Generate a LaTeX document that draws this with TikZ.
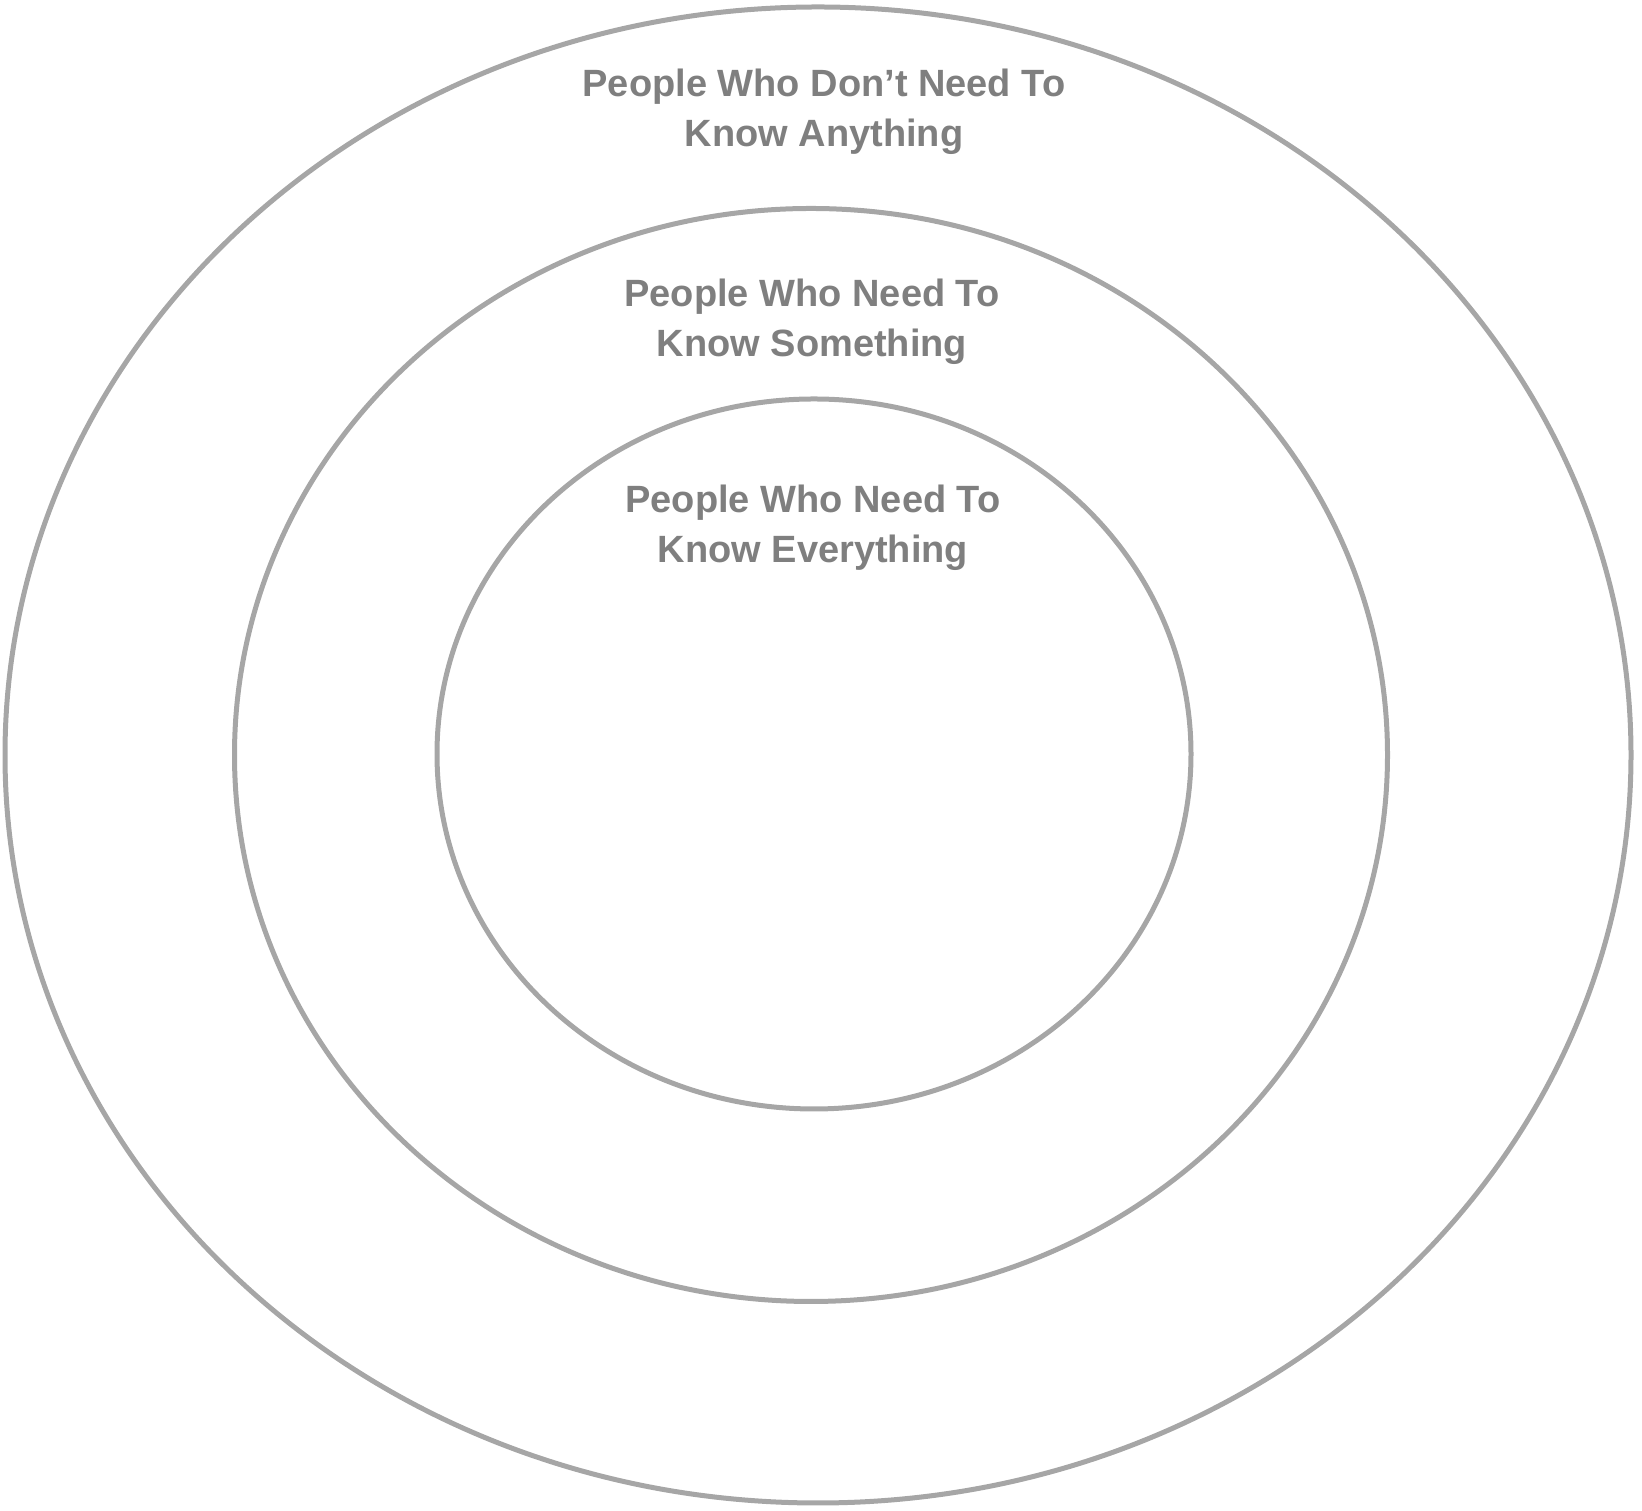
\documentclass[tikz,border=0pt]{standalone}
\usepackage{fontspec}
\setmainfont{Liberation Sans}
\usetikzlibrary{shapes.geometric, positioning}

\definecolor{ringgray}{HTML}{A6A6A6}
\definecolor{textgray}{HTML}{7F7F7F}

\begin{document}
\begin{tikzpicture}[
		x=1pt, y=1pt,
		ring/.style={ellipse, draw=ringgray, line width=5pt, inner sep=0pt},
		tag/.style={align=center, text=textgray, font=\fontsize{38}{50}\selectfont\bfseries}
		]
		\useasboundingbox (0,0) rectangle (1642,1511);

		\node[ring, minimum width=1626pt, minimum height=1496pt] (outer) at (818,756) {};
		\node[ring, minimum width=1153pt, minimum height=1093pt] (middle) at (811,756) {};
		\node[ring, minimum width=754pt, minimum height=710pt] (inner) at (814,757) {};

		\node[tag] (anything) at (824,1399) {People Who Don't Need To\\Know Anything};
		\node[tag] (something) at (812,1189) {People Who Need To\\Know Something};
		\node[tag] (everything) at (813,983) {People Who Need To\\Know Everything};
	\end{tikzpicture}
\end{document}
